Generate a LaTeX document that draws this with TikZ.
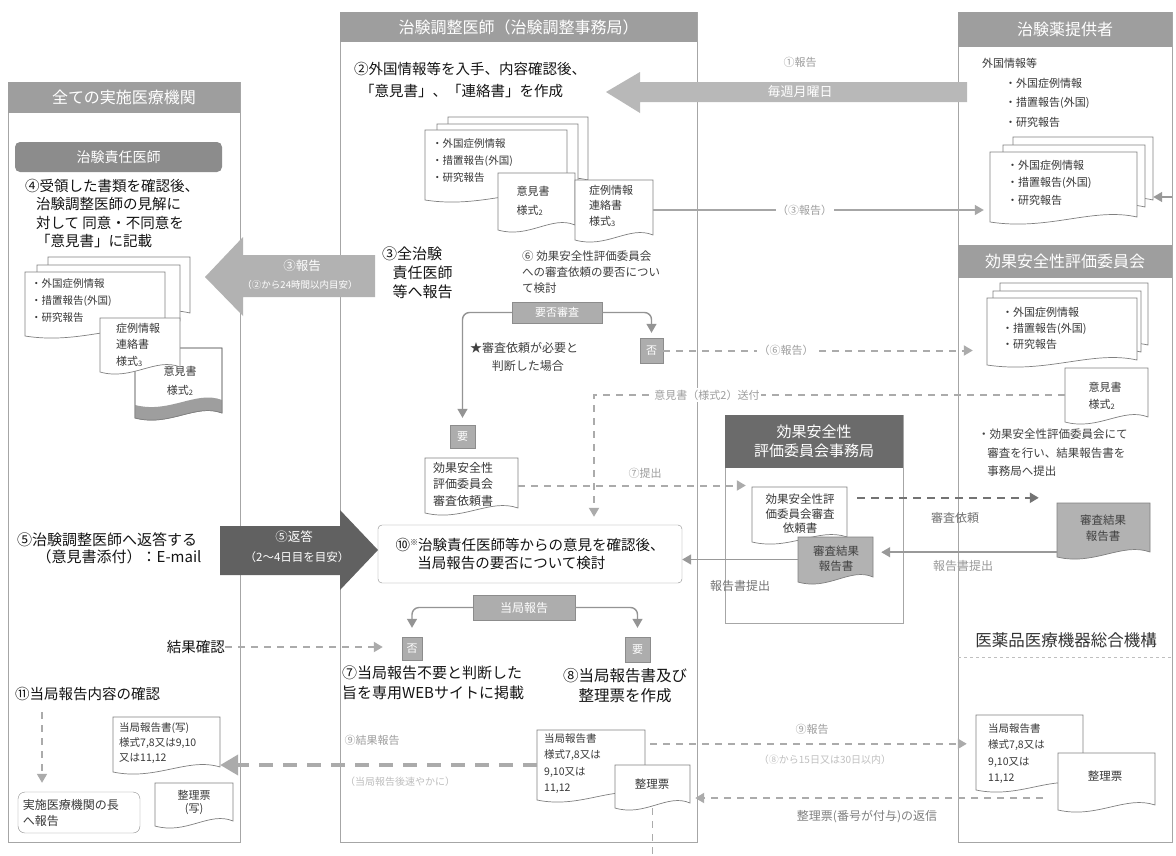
\documentclass[tikz,border=0pt]{standalone}
\usepackage{fontspec}
\setmainfont{Noto Sans CJK JP}
\usetikzlibrary{arrows.meta,calc}
\newcommand\fs[2]{\fontsize{#1}{#2}\selectfont}
\newcommand\sub[1]{\raisebox{-1.5pt}{\fs{7.5}{8}#1}}
\newcommand\docpath[5]{\path[#1] (#2,#3) -- (#4,#3) -- (#4,#5-5) .. controls ({#4-0.3*(#4-#2)},{#5-15}) and ({#2+0.4*(#4-#2)},{#5+9}) .. (#2,#5) -- cycle;}
\newcommand\docnode[6]{\docpath{#1}{#3}{#4}{#5}{#6}\node[anchorbox, minimum width={#5-#3}, minimum height={#6-#4}] (#2) at ({(#3+#5)/2},{(#4+#6)/2}) {};}
\newcommand\greyband[3]{\fill[black!38] (#2,#3-5) .. controls ({#2-0.3*(#2-#1)},{#3-15}) and ({#1+0.4*(#2-#1)},{#3+9}) .. (#1,#3) -- (#1,#3-13) .. controls ({#1+0.4*(#2-#1)},{#3-4}) and ({#2-0.3*(#2-#1)},{#3-28}) .. (#2,#3-18) -- cycle;}
\tikzset{
 colbox/.style={draw=black!35, line width=0.7pt},
 hdr/.style={fill=black!38, text=white, inner sep=0, font=\fs{16}{19}},
 tx/.style={inner sep=0, align=left, text=black!92, font=\fs{14.5}{18.5}},
 sm/.style={inner sep=0, align=left, text=black!75, font=\fs{11.5}{16}},
 dt/.style={inner sep=0, align=left, text=black!78, font=\fs{10.5}{17}},
 faint/.style={inner sep=1.5pt, text=black!38, font=\fs{11}{13}, fill=white},
 dl/.style={draw=black!50, fill=white, line width=0.7pt},
 dg/.style={draw=black!50, fill=black!30, line width=0.7pt},
 anchorbox/.style={inner sep=0, draw=none},
 tag/.style={fill=black!32, draw=black!45, text=white, inner sep=0, font=\fs{11}{13}},
 conn/.style={draw=black!42, line width=1.4pt, rounded corners=7pt},
 dsh/.style={draw=black!33, line width=2pt, dash pattern=on 7pt off 6pt},
 arrtip/.style={-{Triangle[length=9pt,width=10pt]}},
}
\begin{document}
\begin{tikzpicture}[x=1pt,y=-1pt]
\useasboundingbox (0,0) rectangle (1176,855);
\fill[white] (0,0) rectangle (1176,855);
% ---------- columns ----------
\draw[colbox] (8,82) rectangle (240,842);
\draw[colbox] (340,12) rectangle (697,842);
\draw[colbox] (958,12) rectangle (1172,842);
\draw[colbox] (725,415) rectangle (903,623);
\draw[draw=black!25, dashed, line width=0.7pt] (958,657) -- (1172,657);
\node[hdr, minimum width=232, minimum height=31] (hL) at (124,97.5) {全ての実施医療機関};
\node[hdr, minimum width=357, minimum height=30] (hM) at (518.5,27) {治験調整医師（治験調整事務局）};
\node[hdr, minimum width=214, minimum height=35] (hR) at (1065,29.5) {治験薬提供者};
\node[hdr, minimum width=214, minimum height=33] (hC) at (1065,261.5) {効果安全性評価委員会};
\node[hdr, fill=black!58, minimum width=178, minimum height=53, align=center, font=\fs{15}{19}] (hJ) at (814,441.5) {効果安全性\\評価委員会事務局};
\node[inner sep=0, text=black!80, font=\fs{16.5}{19}] (hP) at (1066,640) {医薬品医療機器総合機構};
% ---------- big arrows ----------
\fill[black!28] (967,82) -- (640,82) -- (640,72) -- (606,92) -- (640,113) -- (640,102) -- (967,102) -- cycle;
\node[font=\fs{13}{15}, text=white, inner sep=0] (wk) at (800,92) {毎週月曜日};
\node[faint, fill=none] (r1) at (800,62) {①報告};
\fill[black!30] (375,255) -- (243,255) -- (243,237) -- (205,277) -- (243,316) -- (243,297) -- (375,297) -- cycle;
\node[font=\fs{12.5}{14}, text=white, inner sep=0] (r3a) at (302,266) {③報告};
\node[font=\fs{9.5}{11}, text=white, inner sep=0] (r3b) at (300,285) {（②から24時間以内目安）};
\fill[black!62] (220,526) -- (340,526) -- (340,510) -- (378,550) -- (340,590) -- (340,575) -- (220,575) -- cycle;
\node[font=\fs{12.5}{14}, text=white, inner sep=0] (r5a) at (294,537) {⑤返答};
\node[font=\fs{11.5}{13}, text=white, inner sep=0] (r5b) at (297,557) {（2〜4日目を目安）};
% ---------- left column ----------
\node[hdr, rounded corners=5pt, fill=black!45, minimum width=207, minimum height=30, font=\fs{14}{16}] (hPI) at (118.5,157) {治験責任医師};
\node[tx, anchor=north west] (t4) at (25,179) {④受領した書類を確認後、\\\hspace*{0.75em}治験調整医師の見解に\\\hspace*{0.75em}対して 同意・不同意を\\\hspace*{0.75em}「意見書」に記載};
\docnode{dl}{lB1}{48}{257}{190}{318}
\docnode{dl}{lB2}{37}{265}{180}{326}
\docnode{dl}{lStack}{25}{272}{165}{336}
\node[dt, anchor=north west] (lStackT) at (31,278) {・外国症例情報\\・措置報告(外国)\\・研究報告};
\docnode{dl}{lOp}{135}{348}{222}{418}
\greyband{135}{222}{418}
\docpath{draw=black!50, line width=0.7pt}{135}{348}{222}{418}
\node[dt, align=center, font=\fs{11}{19}] (lOpT) at (180,381) {意見書\\様式\sub{2}};
\docnode{dl}{lS3}{100}{318}{180}{372}
\node[dt, anchor=north west, font=\fs{11}{16.5}] (lS3T) at (116,323) {症例情報\\連絡書\\様式\sub{3}};
\node[tx, anchor=north west, font=\fs{15}{17.5}] (t5) at (17,532) {⑤治験調整医師へ返答する\\\hspace*{1.3em}（意見書添付）：E-mail};
\node[tx, anchor=east] (kk) at (225,647) {結果確認};
\node[tx, anchor=west] (t11) at (15,694) {⑪当局報告内容の確認};
\node[draw=black!45, rounded corners=7pt, minimum width=122, minimum height=41, dt, font=\fs{12}{16}, text width=112] (head) at (79,812.5) {実施医療機関の長\\へ報告};
\coordinate (a11) at (42,712);
\draw[dsh, line width=1.6pt, arrtip, shorten >=9pt] (a11) -- (a11 |- head.north);
\docnode{dl}{lRep}{113}{717}{220}{772}
\node[dt, anchor=north west, font=\fs{10.5}{15}] (lRepT) at (119,722) {当局報告書(写)\\様式7,8又は9,10\\又は11,12};
\docnode{dl}{lSei}{155}{783}{233}{826}
\node[dt, align=center, font=\fs{11}{13}] (lSeiT) at (194,802) {整理票\\(写)};
% ---------- middle column ----------
\node[tx, anchor=north west, font=\fs{14.5}{22}] (t2) at (354,62) {②外国情報等を入手、内容確認後、\\\hspace*{0.4em}「意見書」、「連絡書」を作成};
\docnode{dl}{mB1}{448}{117}{588}{185}
\docnode{dl}{mB2}{437}{124}{578}{192}
\docnode{dl}{mStack}{425}{130}{567}{200}
\node[dt, anchor=north west] (mStackT) at (432,138) {・外国症例情報\\・措置報告(外国)\\・研究報告};
\docnode{dl}{mOp}{498}{173}{575}{230}
\node[dt, align=left, font=\fs{11}{19}] (mOpT) at (533,201) {意見書\\様式\sub{2}};
\docnode{dl}{mS3}{575}{180}{653}{240}
\node[dt, anchor=north west, font=\fs{11}{15.5}] (mS3T) at (589,185) {症例情報\\連絡書\\様式\sub{3}};
\node[tx, anchor=north west, font=\fs{15}{19}] (t3) at (382,247) {③全治験\\\hspace*{0.7em}責任医師\\\hspace*{0.7em}等へ報告};
\node[sm, anchor=north west] (t6) at (522,251) {⑥ 効果安全性評価委員会\\への審査依頼の要否につい\\て検討};
\node[tag, minimum width=90, minimum height=21] (yh) at (557,312.5) {要否審査};
\node[tag, minimum width=25, minimum height=23] (yes1) at (462.5,436.5) {要};
\node[tag, minimum width=23, minimum height=25] (no1) at (651.5,350.5) {否};
\draw[conn, arrtip, shorten >=7pt] (yh.west) -| (yes1.north);
\draw[conn, arrtip, shorten >=5pt] (yh.east) -| (no1.north);
\node[sm, anchor=north west, font=\fs{12}{18}] (tstar) at (470,342) {★審査依頼が必要と\\\hspace*{1.8em}判断した場合};
\docnode{dl}{dReq}{425}{458}{518}{513}
\node[dt, anchor=north west, font=\fs{12}{16.5}] (dReqT) at (433,462) {効果安全性\\評価委員会\\審査依頼書};
\node[draw=black!45, rounded corners=4pt, minimum width=304, minimum height=58, tx] (box10) at (530,554) {⑩\raisebox{5pt}{\fs{8}{8}※}治験責任医師等からの意見を確認後、\\\hspace*{1.5em}当局報告の要否について検討};
\node[tag, minimum width=102, minimum height=25, font=\fs{12}{14}] (th) at (524,607.5) {当局報告};
\node[tag, minimum width=20, minimum height=23] (no2) at (412,648.5) {否};
\node[tag, minimum width=25, minimum height=25] (yes2) at (637.5,649.5) {要};
\draw[conn, arrtip, shorten >=9pt] (th.west) -| (no2.north);
\draw[conn, arrtip, shorten >=9pt] (th.east) -| (yes2.north);
\node[tx, anchor=north west, font=\fs{15}{20}] (t7) at (342,666) {⑦当局報告不要と判断した\\旨を専用WEBサイトに掲載};
\node[tx, align=center, font=\fs{15.5}{20}] (t8) at (625,686) {⑧当局報告書及び\\整理票を作成};
\docnode{dl}{mRep}{537}{730}{645}{800}
\node[dt, anchor=north west, font=\fs{10.5}{16.5}] (mRepT) at (544,733) {当局報告書\\様式7,8又は\\9,10又は\\11,12};
\docnode{dl}{mSei}{615}{765}{690}{808}
\node[dt, font=\fs{11.5}{13}] (mSeiT) at (652,784) {整理票};
% ---------- 事務局 ----------
\docnode{dl}{jReq}{752}{487}{847}{542}
\node[dt, align=center, font=\fs{11.5}{14.5}] (jReqT) at (800,514) {効果安全性評\\価委員会審査\\依頼書};
\docnode{dg}{jRes}{798}{537}{873}{582}
\node[dt, align=center, font=\fs{11.5}{15}, text=black!75] (jResT) at (836,559) {審査結果\\報告書};
% ---------- right column ----------
\node[dt, anchor=west, font=\fs{11}{13}] (pt1) at (982,63) {外国情報等};
\node[dt, anchor=north west, font=\fs{11}{19.5}] (pt2) at (1005,78) {・外国症例情報\\・措置報告(外国)\\・研究報告};
\docnode{dl}{pB1}{1013}{137}{1153}{205}
\docnode{dl}{pB2}{1003}{145}{1145}{212}
\docnode{dl}{pStack}{990}{152}{1137}{222}
\node[dt, anchor=north west, font=\fs{11}{17.5}] (pStackT) at (1007,160) {・外国症例情報\\・措置報告(外国)\\・研究報告};
\coordinate (pr) at (1172,197);
\draw[draw=black!40, line width=1.4pt, arrtip] (pr) -- (pr -| pB1.east);
\docnode{dl}{cB1}{1000}{283}{1148}{350}
\docnode{dl}{cB2}{993}{291}{1141}{357}
\docnode{dl}{cStack}{987}{298}{1137}{365}
\node[dt, anchor=north west, font=\fs{11}{16}] (cStackT) at (1002,307) {・外国症例情報\\・措置報告(外国)\\・研究報告};
\docnode{dl}{cOp}{1065}{368}{1148}{422}
\node[dt, align=left, font=\fs{11}{17}] (cOpT) at (1105,396) {意見書\\様式\sub{2}};
\node[sm, anchor=north west, font=\fs{11.5}{18.5}] (tc) at (978,429) {・効果安全性評価委員会にて\\\hspace*{0.8em}審査を行い、結果報告書を\\\hspace*{0.8em}事務局へ提出};
\docnode{dg}{cRes}{1057}{503}{1150}{557}
\node[dt, align=center, font=\fs{11.5}{16}, text=black!75] (cResT) at (1103,528) {審査結果\\報告書};
\docnode{dl}{pRep}{976}{715}{1083}{790}
\node[dt, anchor=north west, font=\fs{10.5}{16.5}] (pRepT) at (988,723) {当局報告書\\様式7,8又は\\9,10又は\\11,12};
\docnode{dl}{pSei}{1058}{753}{1155}{810}
\node[dt, font=\fs{11.5}{13}] (pSeiT) at (1105,776) {整理票};
% ---------- connectors ----------
\draw[draw=black!35, line width=1.4pt, arrtip, shorten >=6pt] (mS3.east) -- (mS3.east -| pStack.west) node[faint, pos=0.45] (l3) {（③報告）};
\draw[dsh, arrtip, shorten >=14pt] (no1.east) -- (no1.east -| cStack.west) node[faint, pos=0.38] (l6) {（⑥報告）};
\coordinate (k1) at (594,0);
\draw[dsh, arrtip, shorten >=8pt] (cOp.west) -| (k1 |- box10.north) node[faint, pos=0.38] (l6b) {意見書（様式2）送付};
\draw[dsh, arrtip, shorten >=6pt] (dReq.east) -- (dReq.east -| jReq.west);
\node[faint, fill=none] (l7) at (645,473) {⑦提出};
\coordinate (q1) at ($(jReq.north east)+(10,11)$);
\draw[draw=black!55, line width=2.4pt, dash pattern=on 8pt off 6pt, arrtip, shorten >=18pt] (q1) -- (q1 -| cRes.west);
\node[inner sep=0, text=black!55, font=\fs{12}{14}] (lreq) at (955,518) {審査依頼};
\coordinate (q2) at ($(cRes.south west)+(0,-5)$);
\draw[draw=black!40, line width=1.6pt, arrtip, shorten >=8pt] (q2) -- (q2 -| jRes.east);
\node[inner sep=0, text=black!40, font=\fs{12}{14}] (lrs1) at (963,566) {報告書提出};
\draw[draw=black!40, line width=1.6pt, arrtip] (jRes.west) -- (jRes.west -| box10.east);
\node[inner sep=0, text=black!55, font=\fs{12}{14}] (lrs2) at (740,586) {報告書提出};
\draw[dsh, arrtip, shorten >=19pt] (kk.east) -- (kk.east -| no2.west);
\draw[draw=black!33, line width=4pt, dash pattern=on 14pt off 10pt, -{Triangle[length=18pt,width=20pt]}] (mRep.west) -- (mRep.west -| lRep.east);
\node[faint, fill=none] (l9a) at (372,740) {⑨結果報告};
\node[faint, fill=none, font=\fs{10}{12}, text=black!25] (l9b) at (400,782) {（当局報告後速やかに）};
\coordinate (q3) at ($(mRep.north east)+(5,14)$);
\draw[dsh, arrtip, shorten >=9pt] (q3) -- (q3 -| pRep.west);
\node[faint, fill=none] (l9c) at (812,729) {⑨報告};
\node[faint, fill=none, font=\fs{10}{12}, text=black!25] (l9d) at (825,760) {（⑧から15日又は30日以内）};
\coordinate (sr) at (1043,798);
\draw[dsh, arrtip, shorten >=5pt] (sr) -- (sr -| mSei.east);
\node[inner sep=0, text=black!50, font=\fs{12}{14}] (lsei) at (867,817) {整理票(番号が付与)の返信};
\coordinate (bt) at (653,855);
\draw[dsh, line width=1.4pt] (mSei.south) -- (mSei.south |- bt);
\end{tikzpicture}
\end{document}
